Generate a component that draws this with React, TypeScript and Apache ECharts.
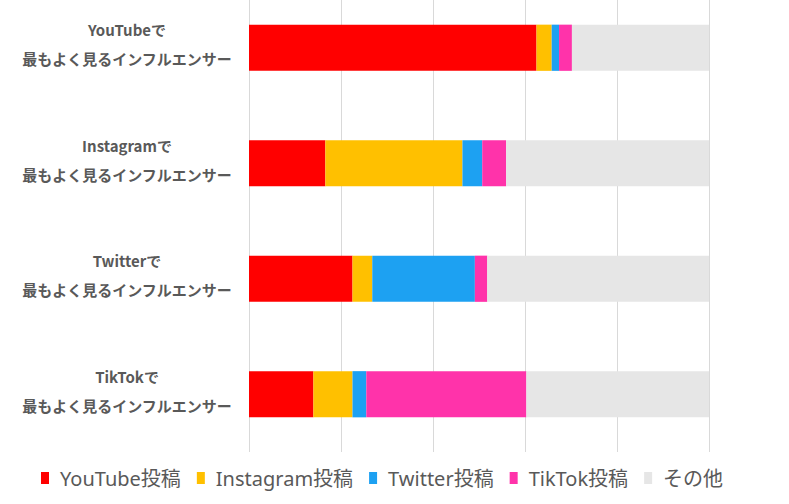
import React, { useEffect, useRef } from "react";
import * as echarts from "echarts";

const categories = [
  "YouTubeで\n最もよく見るインフルエンサー",
  "Instagramで\n最もよく見るインフルエンサー",
  "Twitterで\n最もよく見るインフルエンサー",
  "TikTokで\n最もよく見るインフルエンサー",
];
const seriesNames = ["YouTube投稿", "Instagram投稿", "Twitter投稿", "TikTok投稿", "その他"];
const youtubePosts = [62.5, 16.6, 22.5, 14.0];
const instagramPosts = [3.3, 29.8, 4.3, 8.5];
const twitterPosts = [1.6, 4.3, 22.3, 3.0];
const tiktokPosts = [2.8, 5.2, 2.7, 34.8];
const otherPosts = [29.8, 44.1, 48.2, 39.7];
const colors = ["#FF0000", "#FFC000", "#1DA1F2", "#FF33AA", "#E6E6E6"];

export default function App() {
  const ref = useRef<HTMLDivElement>(null);
  useEffect(() => {
    document.body.style.margin = "0";
    document.body.style.overflow = "hidden";
    if (!ref.current) return;
    const chart = echarts.init(ref.current, undefined, { renderer: "svg" });
    const values = [youtubePosts, instagramPosts, twitterPosts, tiktokPosts, otherPosts];
    chart.setOption({
      animation: false,
      color: colors,
      grid: { left: 249, width: 460, top: 0, bottom: 52, containLabel: false },
      legend: {
        left: 36,
        top: 473,
        icon: "rect",
        itemWidth: 8,
        itemHeight: 12,
        itemGap: 16,
        data: seriesNames,
        textStyle: {
          fontSize: 20,
          color: "#595959",
          fontFamily: "'Noto Sans', 'Noto Sans CJK JP', sans-serif",
          padding: [0, 0, 0, 6],
        },
      },
      xAxis: {
        type: "value",
        min: 0,
        max: 100,
        interval: 20,
        axisLabel: { show: false },
        axisLine: { show: false },
        axisTick: { show: false },
        splitLine: { show: true, lineStyle: { color: "#D9D9D9", width: 1 } },
      },
      yAxis: {
        type: "category",
        inverse: true,
        data: categories,
        axisLine: { show: false },
        axisTick: { show: false },
        axisLabel: {
          align: "center",
          margin: 122,
          formatter: (v: string) =>
            v.split("\n").map((s) => `{a|${s}}`).join("\n") + "\n{b| }",
          rich: {
            a: {
              align: "center",
              fontSize: 15,
              fontWeight: "bold",
              lineHeight: 29,
              color: "#595959",
              fontFamily: "'Noto Sans CJK JP', sans-serif",
            },
            b: { fontSize: 2, lineHeight: 7, align: "center" },
          },
        },
      },
      series: seriesNames.map((name, i) => ({
        name,
        type: "bar",
        stack: "total",
        barWidth: "40%",
        data: values[i],
        itemStyle: { color: colors[i] },
      })),
    });
    return () => chart.dispose();
  }, []);
  return <div ref={ref} style={{ width: 789, height: 514, marginTop: -10 }} />;
}
